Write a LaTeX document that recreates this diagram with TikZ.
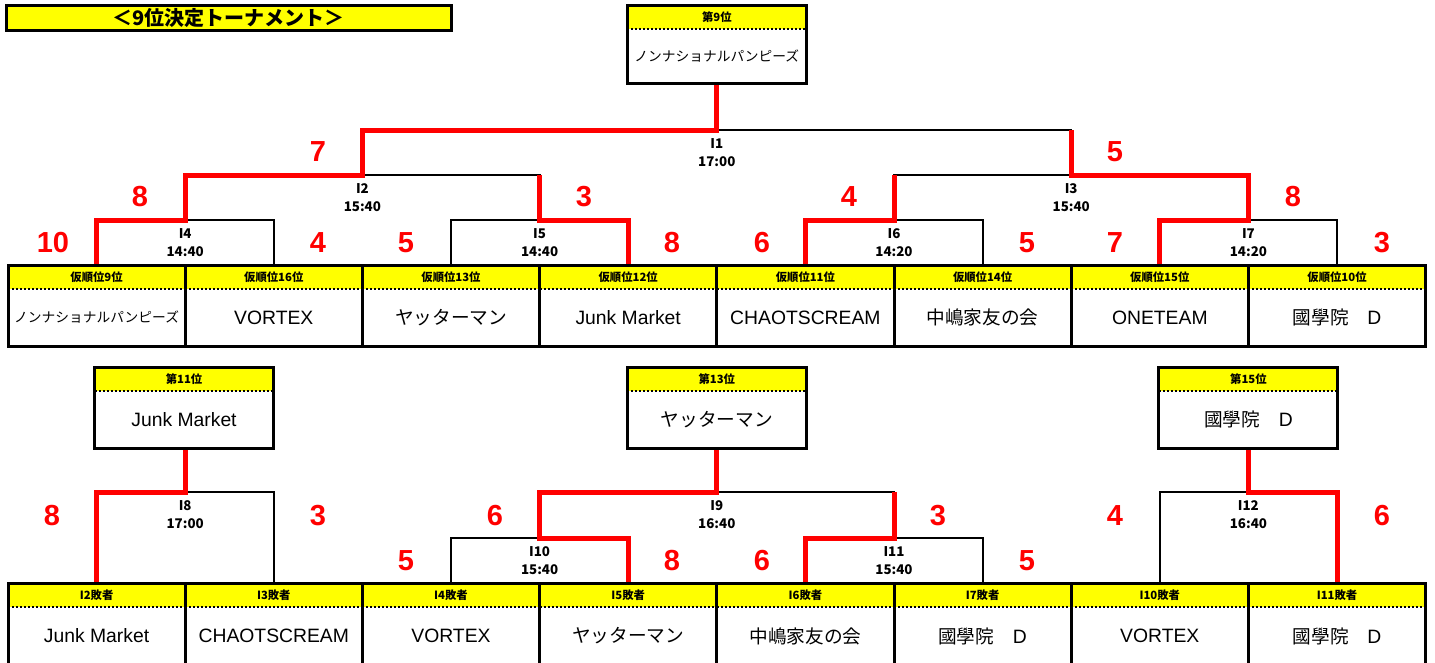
\documentclass[tikz,border=0pt]{standalone}
\usepackage{fontspec}
\setmainfont{Noto Sans CJK JP}
\newfontfamily\scorefont{Liberation Sans}
\newcommand\latn[1]{{\scorefont\fontsize{14.5}{16}\selectfont #1}}
\definecolor{hy}{RGB}{255,255,0}
\definecolor{rd}{RGB}{255,0,0}
\newcommand\mkcell[7]{%
  \node[hdrcell,minimum width=#4] (h#1) at (#2,#3) {#6};
  \node[cellbody,minimum width=#4,minimum height=#5] (b#1) at (h#1.south west) {#7};}
\newcommand\mkframe[1]{%
  \draw[cellframe] (h#1.north west) rectangle (b#1.south east);
  \draw[dotl] (b#1.north west) -- (b#1.north east);}
\begin{document}
\begin{tikzpicture}[x=0.75pt,y=-0.75pt,
  hdrcell/.style={fill=hy,inner sep=0pt,outer sep=0pt,minimum height=18pt,anchor=north west,font=\bfseries\fontsize{8.5}{9}\selectfont},
  cellbody/.style={fill=white,inner sep=0pt,outer sep=0pt,anchor=north west,font=\fontsize{14}{16}\selectfont},
  cellframe/.style={draw=black,line width=2.25pt},
  dotl/.style={draw=black,line width=1.5pt,dash pattern=on 1.5pt off 1.5pt},
  bk/.style={draw=black,line width=1.5pt},
  rl/.style={draw=rd,line width=3.75pt},
  scorelab/.style={text=rd,inner sep=0pt,font=\scorefont\bfseries\fontsize{21.75}{24}\selectfont},
  mlab/.style={inner sep=0pt,anchor=north,align=center,font=\bfseries\fontsize{10}{13.5}\selectfont},
  ttlbox/.style={fill=hy,draw=black,line width=2.25pt,inner sep=0pt,minimum width=333.75pt,minimum height=18.75pt,font=\bfseries\fontsize{15}{16}\selectfont}]
\useasboundingbox (0,0) rectangle (1435,662);
\fill[white] (0,0) rectangle (1435,662);

% title
\node[ttlbox] (title) at (228.5,17.5) {＜9位決定トーナメント＞};

% row 1 cells
\mkcell{11}{8}{265}{132.9pt}{42.75pt}{仮順位9位}{\fontsize{10.3}{12}\selectfont ノンナショナルパンピーズ}
\mkcell{12}{185.2}{265}{132.9pt}{42.75pt}{仮順位16位}{\latn{VORTEX}}
\mkcell{13}{362.4}{265}{132.9pt}{42.75pt}{仮順位13位}{ヤッターマン}
\mkcell{14}{539.6}{265}{132.9pt}{42.75pt}{仮順位12位}{\latn{Junk Market}}
\mkcell{15}{716.8}{265}{132.9pt}{42.75pt}{仮順位11位}{\latn{CHAOTSCREAM}}
\mkcell{16}{894}{265}{132.9pt}{42.75pt}{仮順位14位}{中嶋家友の会}
\mkcell{17}{1071.2}{265}{132.9pt}{42.75pt}{仮順位15位}{\latn{ONETEAM}}
\mkcell{18}{1248.4}{265}{132.9pt}{42.75pt}{仮順位10位}{國學院　\latn{D}}

% row 2 cells
\mkcell{21}{8}{583}{132.9pt}{43.5pt}{I2敗者}{\latn{Junk Market}}
\mkcell{22}{185.2}{583}{132.9pt}{43.5pt}{I3敗者}{\latn{CHAOTSCREAM}}
\mkcell{23}{362.4}{583}{132.9pt}{43.5pt}{I4敗者}{\latn{VORTEX}}
\mkcell{24}{539.6}{583}{132.9pt}{43.5pt}{I5敗者}{ヤッターマン}
\mkcell{25}{716.8}{583}{132.9pt}{43.5pt}{I6敗者}{中嶋家友の会}
\mkcell{26}{894}{583}{132.9pt}{43.5pt}{I7敗者}{國學院　\latn{D}}
\mkcell{27}{1071.2}{583}{132.9pt}{43.5pt}{I10敗者}{\latn{VORTEX}}
\mkcell{28}{1248.4}{583}{132.9pt}{43.5pt}{I11敗者}{國學院　\latn{D}}

% winner boxes
\mkcell{w9}{627.3}{5}{134.25pt}{40.5pt}{第9位}{\fontsize{10.3}{12}\selectfont ノンナショナルパンピーズ}
\mkcell{w11}{94.5}{367}{134.25pt}{42.75pt}{第11位}{\latn{Junk Market}}
\mkcell{w13}{627.3}{367}{134.25pt}{42.75pt}{第13位}{ヤッターマン}
\mkcell{w15}{1158.9}{367}{134.25pt}{42.75pt}{第15位}{國學院　\latn{D}}

% junctions
\coordinate (I4) at (185.2,220);
\coordinate (I5) at (539.6,220);
\coordinate (I6) at (894,220);
\coordinate (I7) at (1248.4,220);
\coordinate (I2) at (362.4,175);
\coordinate (I3) at (1071.2,175);
\coordinate (I1) at (716.8,130);
\coordinate (I8) at (185.2,492);
\coordinate (I10) at (539.6,538);
\coordinate (I11) at (894,538);
\coordinate (I9) at (716.8,492);
\coordinate (I12) at (1248.4,492);

% black brackets
\draw[bk] (h11.north) |- (I4) -| (h12.north);
\draw[bk] (h13.north) |- (I5) -| (h14.north);
\draw[bk] (h15.north) |- (I6) -| (h16.north);
\draw[bk] (h17.north) |- (I7) -| (h18.north);
\draw[bk] (I4) |- (I2) -| (I5);
\draw[bk] (I6) |- (I3) -| (I7);
\draw[bk] (I2) |- (I1) -| (I3);
\draw[bk] (I1) -- (I1 |- bw9.south);
\draw[bk] (h21.north) |- (I8) -| (h22.north);
\draw[bk] (I8) -- (I8 |- bw11.south);
\draw[bk] (h23.north) |- (I10) -| (h24.north);
\draw[bk] (h25.north) |- (I11) -| (h26.north);
\draw[bk] (I10) |- (I9) -| (I11);
\draw[bk] (I9) -- (I9 |- bw13.south);
\draw[bk] (h27.north) |- (I12) -| (h28.north);
\draw[bk] (I12) -- (I12 |- bw15.south);

% red winner paths
\draw[rl] (h11.north) |- (I4) |- (I2) |- (I1) -- (I1 |- bw9.south);
\draw[rl] (h14.north) |- (I5) -- (I5 |- I2);
\draw[rl] (h15.north) |- (I6) -- (I6 |- I3);
\draw[rl] (h17.north) |- (I7) |- (I3) -- (I3 |- I1);
\draw[rl] (h21.north) |- (I8) -- (I8 |- bw11.south);
\draw[rl] (h24.north) |- (I10) |- (I9) -- (I9 |- bw13.south);
\draw[rl] (h25.north) |- (I11) -- (I11 |- I9);
\draw[rl] (h28.north) |- (I12) -- (I12 |- bw15.south);

% frames
\mkframe{11}\mkframe{12}\mkframe{13}\mkframe{14}\mkframe{15}\mkframe{16}\mkframe{17}\mkframe{18}
\mkframe{21}\mkframe{22}\mkframe{23}\mkframe{24}\mkframe{25}\mkframe{26}\mkframe{27}\mkframe{28}
\mkframe{w9}\mkframe{w11}\mkframe{w13}\mkframe{w15}

% match labels
\node[mlab] (lI1) at ([yshift=-6.5pt]I1) {I1\\17:00};
\node[mlab] (lI2) at ([yshift=-6.5pt]I2) {I2\\15:40};
\node[mlab] (lI3) at ([yshift=-6.5pt]I3) {I3\\15:40};
\node[mlab] (lI4) at ([yshift=-6.5pt]I4) {I4\\14:40};
\node[mlab] (lI5) at ([yshift=-6.5pt]I5) {I5\\14:40};
\node[mlab] (lI6) at ([yshift=-6.5pt]I6) {I6\\14:20};
\node[mlab] (lI7) at ([yshift=-6.5pt]I7) {I7\\14:20};
\node[mlab] (lI8) at ([yshift=-6.5pt]I8) {I8\\17:00};
\node[mlab] (lI9) at ([yshift=-6.5pt]I9) {I9\\16:40};
\node[mlab] (lI10) at ([yshift=-6.5pt]I10) {I10\\15:40};
\node[mlab] (lI11) at ([yshift=-6.5pt]I11) {I11\\15:40};
\node[mlab] (lI12) at ([yshift=-6.5pt]I12) {I12\\16:40};

% scores row 1
\node[scorelab] (s1) at (53,243) {10};
\node[scorelab] (s2) at (318,243) {4};
\node[scorelab] (s3) at (406,243) {5};
\node[scorelab] (s4) at (672,243) {8};
\node[scorelab] (s5) at (762,243) {6};
\node[scorelab] (s6) at (1027,243) {5};
\node[scorelab] (s7) at (1115,243) {7};
\node[scorelab] (s8) at (1382,243) {3};
\node[scorelab] (s9) at (140,197) {8};
\node[scorelab] (s10) at (584,197) {3};
\node[scorelab] (s11) at (849,197) {4};
\node[scorelab] (s12) at (1293,197) {8};
\node[scorelab] (s13) at (318,152) {7};
\node[scorelab] (s14) at (1115,152) {5};
% scores row 2
\node[scorelab] (s15) at (52,516) {8};
\node[scorelab] (s16) at (318,516) {3};
\node[scorelab] (s17) at (495,516) {6};
\node[scorelab] (s18) at (938,516) {3};
\node[scorelab] (s19) at (406,561) {5};
\node[scorelab] (s20) at (672,561) {8};
\node[scorelab] (s21) at (762,561) {6};
\node[scorelab] (s22) at (1027,561) {5};
\node[scorelab] (s23) at (1115,516) {4};
\node[scorelab] (s24) at (1382,516) {6};
\end{tikzpicture}
\end{document}
